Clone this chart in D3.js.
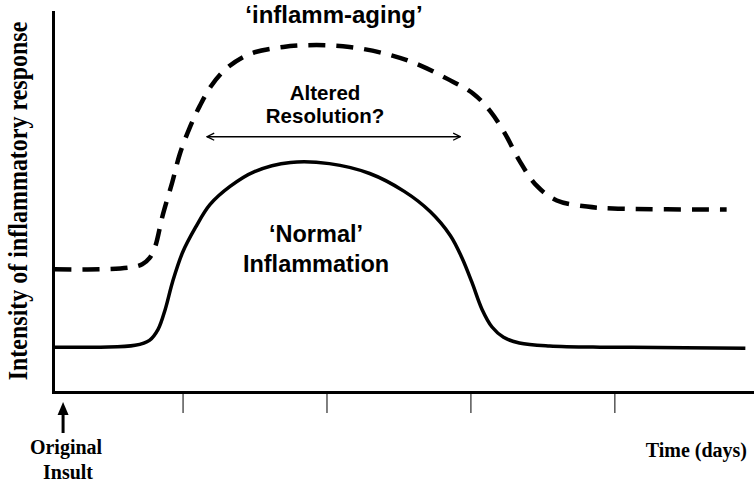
<!DOCTYPE html>
<html>
<head>
<meta charset="utf-8">
<script src="https://cdn.jsdelivr.net/npm/d3@7"></script>
<style>
  body { margin: 0; background: #fff; }
  .serif { font-family: "Liberation Serif", "Times New Roman", serif; font-weight: bold; }
  .sans { font-family: "Liberation Sans", Arial, sans-serif; font-weight: bold; }
</style>
</head>
<body>
<svg id="chart" width="754" height="485"></svg>
<script>
// 'Normal' inflammation curve (time units, intensity 0-100)
const normalTime = [0.1, 3.3, 5.7, 6.7, 7.3, 7.8, 8.3, 9.0, 9.9, 10.9, 12.3, 14.0, 16.5, 19.2,
  22.0, 24.4, 26.2, 27.6, 28.4, 29.1, 29.8, 30.5, 31.3, 32.4, 34.5, 38.0, 40.2, 48.1];
const normalIntensity = [11.8, 11.8, 12.3, 13.6, 16.5, 21.8, 28.9, 36.7, 43.3, 49.3, 54.1, 58.0, 60.4, 60.1,
  57.5, 52.8, 47.5, 41.2, 35.4, 28.9, 21.8, 17.1, 14.4, 12.9, 12.1, 11.8, 11.8, 11.5];

// 'inflamm-aging' curve
const agingTime = [0.1, 3.3, 5.4, 6.2, 6.7, 7.1, 7.6, 8.3, 8.8, 9.5, 10.2, 11.0, 12.1, 13.7, 16.0,
  18.3, 20.6, 22.9, 25.1, 27.4, 29.2, 30.4, 31.4, 32.4, 33.6, 35.0, 37.1, 38.9, 46.8];
const agingIntensity = [32.3, 32.3, 32.8, 33.6, 35.2, 38.3, 46.2, 55.4, 62.5, 69.6, 75.3, 80.6, 85.3, 89.0, 90.8,
  91.3, 90.8, 89.2, 86.6, 82.4, 78.5, 73.8, 68.0, 60.9, 54.3, 50.4, 48.8, 48.3, 48.0];

const tickDays = [9, 19, 29, 39];
const resolutionSpan = [10.7, 28.3];
const resolutionLevel = 67.2;
const insultTime = 0.7;

const margin = { left: 53, right: 0, top: 12, bottom: 92 };
const chartSize = { width: 754, height: 485 };

const svg = d3.select("#chart");

const x = d3.scaleLinear()
  .domain([0, 48.7])
  .range([margin.left, chartSize.width - margin.right]);

const y = d3.scaleLinear()
  .domain([0, 100])
  .range([chartSize.height - margin.bottom - 1, margin.top]);

const defs = svg.append("defs");
defs.append("marker")
  .attr("id", "open-head")
  .attr("viewBox", "0 0 10 10")
  .attr("refX", 9)
  .attr("refY", 5)
  .attr("markerWidth", 9)
  .attr("markerHeight", 9)
  .attr("markerUnits", "userSpaceOnUse")
  .attr("orient", "auto-start-reverse")
  .append("path")
  .attr("d", "M1,1 L9,5 L1,9")
  .attr("fill", "none")
  .attr("stroke", "#000")
  .attr("stroke-width", 1.5);

// axes
const xAxis = d3.axisBottom(x)
  .tickValues(tickDays)
  .tickFormat("")
  .tickSize(21)
  .tickSizeOuter(0);

const gx = svg.append("g")
  .attr("transform", `translate(0, ${y(0)})`)
  .call(xAxis);
gx.select(".domain").attr("stroke-width", 3).attr("stroke-linecap", "square");
gx.selectAll(".tick line").attr("stroke-width", 1);

const yAxis = d3.axisLeft(y).tickValues([]).tickSizeOuter(0);
const gy = svg.append("g")
  .attr("transform", `translate(${x(0)}, 0)`)
  .call(yAxis);
gy.select(".domain").attr("stroke-width", 3).attr("stroke-linecap", "square");

// curves
const line = d3.line()
  .x(d => x(d[0]))
  .y(d => y(d[1]))
  .curve(d3.curveCatmullRom.alpha(0.5));

svg.append("path")
  .datum(d3.zip(agingTime, agingIntensity))
  .attr("d", line)
  .attr("fill", "none")
  .attr("stroke", "#000")
  .attr("stroke-width", 4.5)
  .attr("stroke-dasharray", "17 11");

svg.append("path")
  .datum(d3.zip(normalTime, normalIntensity))
  .attr("d", line)
  .attr("fill", "none")
  .attr("stroke", "#000")
  .attr("stroke-width", 3.5);

// altered resolution double arrow
svg.append("line")
  .attr("x1", x(resolutionSpan[0]))
  .attr("x2", x(resolutionSpan[1]))
  .attr("y1", y(resolutionLevel))
  .attr("y2", y(resolutionLevel))
  .attr("stroke", "#000")
  .attr("stroke-width", 1.5)
  .attr("marker-start", "url(#open-head)")
  .attr("marker-end", "url(#open-head)");

// original insult arrow
const ax = x(insultTime);
svg.append("line")
  .attr("x1", ax).attr("x2", ax)
  .attr("y1", 433).attr("y2", 412)
  .attr("stroke", "#000")
  .attr("stroke-width", 3);
svg.append("path")
  .attr("d", `M${ax - 5.5},${415} L${ax},${402} L${ax + 5.5},${415} Z`)
  .attr("fill", "#000");

// labels
const addText = (cls, tx, ty, size, str, anchor = "middle", stretch = 1) =>
  svg.append("text")
    .attr("class", cls)
    .attr("transform", `translate(${tx}, ${ty}) scale(1, ${stretch})`)
    .attr("font-size", size)
    .attr("text-anchor", anchor)
    .text(str);

svg.append("text")
  .attr("class", "serif")
  .attr("font-size", 24)
  .attr("text-anchor", "middle")
  .attr("transform", "translate(27, 201) rotate(-90) scale(1, 1.12)")
  .text("Intensity of inflammatory response");

addText("serif", 66, 454, 20, "Original", "middle", 1.08);
addText("serif", 68, 479, 20, "Insult", "middle", 1.08);
addText("serif", 747, 457, 20, "Time (days)", "end", 1.08);

addText("sans", 334, 23, 24, "\u2018inflamm-aging\u2019");
addText("sans", 325, 100, 20.5, "Altered");
addText("sans", 325, 123, 20.5, "Resolution?");
addText("sans", 316, 242, 23.5, "\u2018Normal\u2019");
addText("sans", 316, 272, 23.5, "Inflammation");
</script>
</body>
</html>
